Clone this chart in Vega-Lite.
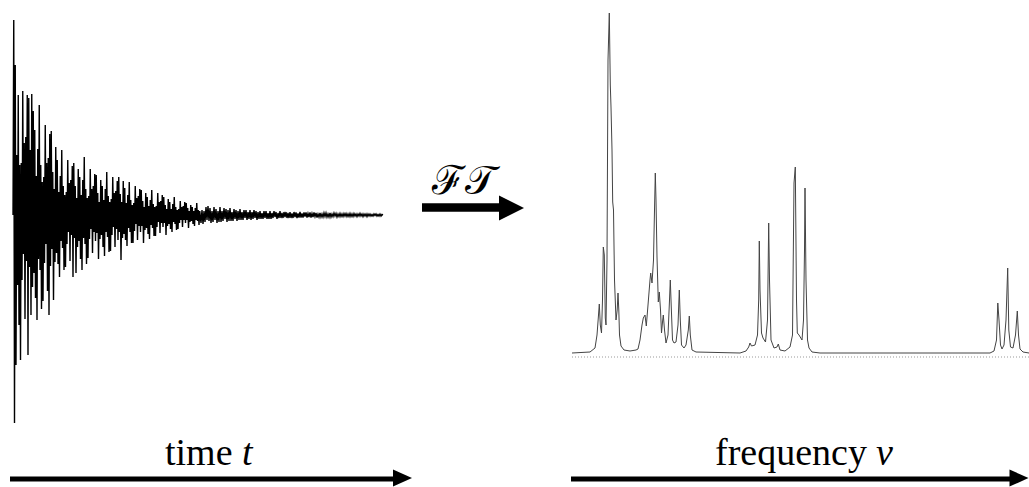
{
  "$schema": "https://vega.github.io/schema/vega-lite/v6.json",
  "width": 1029,
  "height": 487,
  "autosize": {"type": "fit", "contains": "padding"},
  "padding": 0,
  "background": "white",
  "config": {"view": {"stroke": null}},
  "datasets": {
    "fid": [
      {"t":0,"a":0},{"t":0.75,"a":195},{"t":1.5,"a":-208},{"t":2.25,"a":150},{"t":3,"a":-150},{"t":3.75,"a":60},{"t":4.5,"a":-70},{"t":5.25,"a":120},{"t":6,"a":-110},{"t":6.75,"a":50},
      {"t":7.5,"a":-145},{"t":8.25,"a":52},{"t":9,"a":-65},{"t":9.75,"a":124},{"t":10.5,"a":-39},{"t":11.25,"a":72},{"t":12,"a":-104},{"t":12.75,"a":78},{"t":13.5,"a":-46},{"t":14.25,"a":120},
      {"t":15,"a":-140},{"t":15.75,"a":117},{"t":16.5,"a":-52},{"t":17.25,"a":65},{"t":18,"a":-100},{"t":18.75,"a":121},{"t":19.5,"a":-72},{"t":20.25,"a":104},{"t":21,"a":-58},{"t":21.75,"a":85},
      {"t":22.5,"a":-83},{"t":23.25,"a":39},{"t":24,"a":-105},{"t":24.75,"a":66},{"t":25.5,"a":-44},{"t":26.25,"a":110},{"t":27,"a":-55},{"t":27.75,"a":50},{"t":28.5,"a":-94},{"t":29.25,"a":33},
      {"t":30,"a":-86},{"t":30.75,"a":38},{"t":31.5,"a":-48},{"t":32.25,"a":90},{"t":33,"a":-29},{"t":33.75,"a":52},{"t":34.5,"a":-76},{"t":35.25,"a":57},{"t":36,"a":-100},{"t":36.75,"a":81},
      {"t":37.5,"a":-51},{"t":38.25,"a":84},{"t":39,"a":-34},{"t":39.75,"a":43},{"t":40.5,"a":-85},{"t":41.25,"a":26},{"t":42,"a":-47},{"t":42.75,"a":68},{"t":43.5,"a":-38},{"t":44.25,"a":55},
      {"t":45,"a":-49},{"t":45.75,"a":23},{"t":46.5,"a":-62},{"t":47.25,"a":39},{"t":48,"a":-26},{"t":48.75,"a":65},{"t":49.5,"a":-33},{"t":50.25,"a":29},{"t":51,"a":-55},{"t":51.75,"a":20},
      {"t":52.5,"a":-52},{"t":53.25,"a":23},{"t":54,"a":-29},{"t":54.75,"a":55},{"t":55.5,"a":-17},{"t":56.25,"a":32},{"t":57,"a":-46},{"t":57.75,"a":35},{"t":58.5,"a":-20},{"t":59.25,"a":49},
      {"t":60,"a":-62},{"t":60.75,"a":52},{"t":61.5,"a":-23},{"t":62.25,"a":29},{"t":63,"a":-58},{"t":63.75,"a":17},{"t":64.5,"a":-32},{"t":65.25,"a":46},{"t":66,"a":-26},{"t":66.75,"a":38},
      {"t":67.5,"a":-44},{"t":68.25,"a":20},{"t":69,"a":-55},{"t":69.75,"a":35},{"t":70.5,"a":-23},{"t":71.25,"a":58},{"t":72,"a":-29},{"t":72.75,"a":26},{"t":73.5,"a":-49},{"t":74.25,"a":17},
      {"t":75,"a":-43},{"t":75.75,"a":19},{"t":76.5,"a":-24},{"t":77.25,"a":46},{"t":78,"a":-14},{"t":78.75,"a":26},{"t":79.5,"a":-38},{"t":80.25,"a":29},{"t":81,"a":-17},{"t":81.75,"a":41},
      {"t":82.5,"a":-26},{"t":83.25,"a":40},{"t":84,"a":-18},{"t":84.75,"a":22},{"t":85.5,"a":-44},{"t":86.25,"a":13},{"t":87,"a":-24},{"t":87.75,"a":35},{"t":88.5,"a":-20},{"t":89.25,"a":29},
      {"t":90,"a":-32},{"t":90.75,"a":15},{"t":91.5,"a":-41},{"t":92.25,"a":26},{"t":93,"a":-17},{"t":93.75,"a":43},{"t":94.5,"a":-22},{"t":95.25,"a":19},{"t":96,"a":-37},{"t":96.75,"a":13},
      {"t":97.5,"a":-36},{"t":98.25,"a":16},{"t":99,"a":-20},{"t":99.75,"a":38},{"t":100.5,"a":-12},{"t":101.25,"a":22},{"t":102,"a":-32},{"t":102.75,"a":24},{"t":103.5,"a":-14},{"t":104.25,"a":34},
      {"t":105,"a":-25},{"t":105.75,"a":38},{"t":106.5,"a":-17},{"t":107.25,"a":21},{"t":108,"a":-45},{"t":108.75,"a":13},{"t":109.5,"a":-23},{"t":110.25,"a":34},{"t":111,"a":-19},{"t":111.75,"a":27},
      {"t":112.5,"a":-25},{"t":113.25,"a":12},{"t":114,"a":-31},{"t":114.75,"a":20},{"t":115.5,"a":-13},{"t":116.25,"a":33},{"t":117,"a":-17},{"t":117.75,"a":15},{"t":118.5,"a":-28},{"t":119.25,"a":10},
      {"t":120,"a":-28},{"t":120.75,"a":12},{"t":121.5,"a":-16},{"t":122.25,"a":29},{"t":123,"a":-9},{"t":123.75,"a":17},{"t":124.5,"a":-25},{"t":125.25,"a":19},{"t":126,"a":-11},{"t":126.75,"a":26},
      {"t":127.5,"a":-17},{"t":128.25,"a":25},{"t":129,"a":-11},{"t":129.75,"a":14},{"t":130.5,"a":-28},{"t":131.25,"a":8},{"t":132,"a":-15},{"t":132.75,"a":22},{"t":133.5,"a":-13},{"t":134.25,"a":18},
      {"t":135,"a":-19},{"t":135.75,"a":9},{"t":136.5,"a":-24},{"t":137.25,"a":15},{"t":138,"a":-10},{"t":138.75,"a":25},{"t":139.5,"a":-13},{"t":140.25,"a":11},{"t":141,"a":-21},{"t":141.75,"a":8},
      {"t":142.5,"a":-21},{"t":143.25,"a":9},{"t":144,"a":-12},{"t":144.75,"a":22},{"t":145.5,"a":-7},{"t":146.25,"a":13},{"t":147,"a":-18},{"t":147.75,"a":14},{"t":148.5,"a":-8},{"t":149.25,"a":20},
      {"t":150,"a":-12},{"t":150.75,"a":18},{"t":151.5,"a":-8},{"t":152.25,"a":10},{"t":153,"a":-20},{"t":153.75,"a":6},{"t":154.5,"a":-11},{"t":155.25,"a":16},{"t":156,"a":-9},{"t":156.75,"a":13},
      {"t":157.5,"a":-14},{"t":158.25,"a":6},{"t":159,"a":-17},{"t":159.75,"a":11},{"t":160.5,"a":-7},{"t":161.25,"a":18},{"t":162,"a":-9},{"t":162.75,"a":8},{"t":163.5,"a":-15},{"t":164.25,"a":5},
      {"t":165,"a":-14},{"t":165.75,"a":6},{"t":166.5,"a":-8},{"t":167.25,"a":14},{"t":168,"a":-5},{"t":168.75,"a":8},{"t":169.5,"a":-12},{"t":170.25,"a":9},{"t":171,"a":-5},{"t":171.75,"a":13},
      {"t":172.5,"a":-8},{"t":173.25,"a":12},{"t":174,"a":-5},{"t":174.75,"a":7},{"t":175.5,"a":-13},{"t":176.25,"a":4},{"t":177,"a":-7},{"t":177.75,"a":10},{"t":178.5,"a":-6},{"t":179.25,"a":8},
      {"t":180,"a":-9},{"t":180.75,"a":4},{"t":181.5,"a":-11},{"t":182.25,"a":7},{"t":183,"a":-5},{"t":183.75,"a":12},{"t":184.5,"a":-6},{"t":185.25,"a":5},{"t":186,"a":-10},{"t":186.75,"a":4},
      {"t":188,"a":-8},{"t":189,"a":5},{"t":190,"a":-9},{"t":191,"a":4},{"t":192,"a":-7},{"t":193,"a":8},{"t":194,"a":-5},{"t":195,"a":9},{"t":196,"a":-6},{"t":197,"a":7},
      {"t":198,"a":-8},{"t":199,"a":4},{"t":200,"a":-7},{"t":201,"a":8},{"t":202,"a":-5},{"t":203,"a":6},{"t":204,"a":-8},{"t":205,"a":4},{"t":206,"a":-7},{"t":207,"a":8},
      {"t":208,"a":-7},{"t":209,"a":4},{"t":210,"a":-6},{"t":211,"a":7},{"t":212,"a":-4},{"t":213,"a":6},{"t":214,"a":-7},{"t":215,"a":5},{"t":216,"a":-6},{"t":217,"a":7},
      {"t":218,"a":-6},{"t":219,"a":3},{"t":220,"a":-6},{"t":221,"a":6},{"t":222,"a":-4},{"t":223,"a":5},{"t":224,"a":-6},{"t":225,"a":4},{"t":226,"a":-5},{"t":227,"a":6},
      {"t":228,"a":-5},{"t":229,"a":3},{"t":230,"a":-5},{"t":231,"a":5},{"t":232,"a":-3},{"t":233,"a":5},{"t":234,"a":-5},{"t":235,"a":3},{"t":236,"a":-4},{"t":237,"a":5},
      {"t":238,"a":-5},{"t":239,"a":3},{"t":240,"a":-4},{"t":241,"a":5},{"t":242,"a":-3},{"t":243,"a":4},{"t":244,"a":-5},{"t":245,"a":3},{"t":246,"a":-4},{"t":247,"a":4},
      {"t":248,"a":-4},{"t":249,"a":2},{"t":250,"a":-4},{"t":251,"a":4},{"t":252,"a":-3},{"t":253,"a":4},{"t":254,"a":-4},{"t":255,"a":2},{"t":256,"a":-4},{"t":257,"a":4},
      {"t":258,"a":-4},{"t":259,"a":2},{"t":260,"a":-3},{"t":261,"a":4},{"t":262,"a":-2},{"t":263,"a":3},{"t":264,"a":-4},{"t":265,"a":2},{"t":266,"a":-3},{"t":267,"a":4},
      {"t":268,"a":-3},{"t":269,"a":2},{"t":270,"a":-3},{"t":271,"a":3},{"t":272,"a":-2},{"t":273,"a":3},{"t":274,"a":-3},{"t":275,"a":2},{"t":276,"a":-3},{"t":277,"a":3},
      {"t":278,"a":-3},{"t":279,"a":1.5},{"t":280,"a":-3},{"t":281,"a":3},{"t":282,"a":-2},{"t":283,"a":2.5},{"t":284,"a":-3},{"t":285,"a":1.5},{"t":286,"a":-2.5},{"t":287,"a":3},
      {"t":288,"a":-2.5},{"t":289,"a":1.5},{"t":290,"a":-2.5},{"t":291,"a":2.5},{"t":292,"a":-1.5},{"t":293,"a":2.5},{"t":294,"a":-2.5},{"t":295,"a":1.5},{"t":296,"a":-2},{"t":297,"a":2.5},
      {"t":298,"a":-2.5},{"t":299,"a":1.5},{"t":300,"a":-2},{"t":301,"a":2.5},{"t":302,"a":-1.5},{"t":303,"a":2},{"t":304,"a":-2.5},{"t":305,"a":1},{"t":306,"a":-2},{"t":307,"a":2},
      {"t":308,"a":-2},{"t":309,"a":1},{"t":310,"a":-2},{"t":311,"a":2},{"t":312,"a":-1.5},{"t":313,"a":2},{"t":314,"a":-2},{"t":315,"a":1},{"t":316,"a":-2},{"t":317,"a":2},
      {"t":318,"a":-2},{"t":319,"a":1},{"t":320,"a":-1.5},{"t":321,"a":2},{"t":322,"a":-1},{"t":323,"a":1.5},{"t":324,"a":-2},{"t":325,"a":1},{"t":326,"a":-1.5},{"t":327,"a":1.5},
      {"t":328,"a":-1.5},{"t":329,"a":1},{"t":330,"a":-1.5},{"t":331,"a":1.5},{"t":332,"a":-1},{"t":333,"a":1.5},{"t":334,"a":-1.5},{"t":335,"a":1},{"t":336,"a":-1.5},{"t":337,"a":1.5},
      {"t":338,"a":-1.5},{"t":339,"a":1},{"t":340,"a":-1.5},{"t":341,"a":1.5},{"t":342,"a":-1},{"t":343,"a":1},{"t":344,"a":-1.5},{"t":345,"a":1},{"t":346,"a":-1},{"t":347,"a":1.5},
      {"t":348,"a":-1},{"t":349,"a":1},{"t":350,"a":-1.5},{"t":351,"a":1},{"t":352,"a":-1},{"t":353,"a":1},{"t":354,"a":-1.5},{"t":355,"a":1},{"t":356,"a":-1},{"t":357,"a":1},
      {"t":358,"a":-1},{"t":359,"a":0.5},{"t":360,"a":-1},{"t":361,"a":1},{"t":362,"a":-0.5},{"t":363,"a":1},{"t":364,"a":-1},{"t":365,"a":0.5},{"t":366,"a":-1},{"t":367,"a":1},
      {"t":368,"a":-1},{"t":369,"a":0.5},{"t":370,"a":0}
    ],
    "spectrum": [
      {"nu":0,"I":0},{"nu":18,"I":1},{"nu":23,"I":5},{"nu":25,"I":18},{"nu":26.5,"I":38},{"nu":27.3,"I":49},{"nu":28.3,"I":28},{"nu":29.5,"I":20},{"nu":30.5,"I":53},{"nu":31.3,"I":106},
      {"nu":32.3,"I":98},{"nu":33.3,"I":35},{"nu":34,"I":28},{"nu":35,"I":93},{"nu":36,"I":293},{"nu":37.3,"I":340},{"nu":38.3,"I":268},{"nu":39,"I":246},{"nu":40,"I":203},{"nu":40.7,"I":151},
      {"nu":41.5,"I":143},{"nu":42.5,"I":73},{"nu":44,"I":33},{"nu":45.2,"I":43},{"nu":46,"I":60},{"nu":46.8,"I":43},{"nu":47.5,"I":18},{"nu":49,"I":7},{"nu":52,"I":3},{"nu":58,"I":2},
      {"nu":64,"I":3},{"nu":66,"I":4},{"nu":68,"I":13},{"nu":70,"I":28},{"nu":71.3,"I":35},{"nu":73,"I":38},{"nu":74.3,"I":27},{"nu":76,"I":48},{"nu":78,"I":73},{"nu":78.7,"I":80},
      {"nu":80,"I":70},{"nu":81.5,"I":93},{"nu":82.5,"I":143},{"nu":83.3,"I":180},{"nu":84,"I":153},{"nu":85,"I":96},{"nu":86.3,"I":51},{"nu":87.3,"I":61},{"nu":88.5,"I":43},{"nu":89.5,"I":20},
      {"nu":90.5,"I":31},{"nu":91.3,"I":38},{"nu":92.5,"I":23},{"nu":94,"I":10},{"nu":96,"I":18},{"nu":97.5,"I":53},{"nu":98.3,"I":73},{"nu":99.2,"I":48},{"nu":100.5,"I":13},{"nu":102,"I":10},
      {"nu":104,"I":11},{"nu":106,"I":28},{"nu":107.3,"I":63},{"nu":108.3,"I":33},{"nu":109.5,"I":8},{"nu":112,"I":5},{"nu":114,"I":8},{"nu":116.3,"I":23},{"nu":117.3,"I":37},{"nu":118.3,"I":18},
      {"nu":120,"I":3},{"nu":124,"I":1},{"nu":168,"I":0},{"nu":174,"I":2},{"nu":176.7,"I":6},{"nu":178,"I":10},{"nu":179.5,"I":7},{"nu":183,"I":8},{"nu":185.5,"I":18},{"nu":186.7,"I":53},
      {"nu":187.3,"I":112},{"nu":188,"I":63},{"nu":189.5,"I":20},{"nu":191,"I":15},{"nu":193.5,"I":11},{"nu":195.5,"I":33},{"nu":196.7,"I":130},{"nu":197.5,"I":73},{"nu":199,"I":13},{"nu":202,"I":5},
      {"nu":205,"I":6},{"nu":206.3,"I":9},{"nu":208,"I":3},{"nu":213,"I":2},{"nu":218,"I":6},{"nu":220.5,"I":18},{"nu":222,"I":170},{"nu":223.3,"I":186},{"nu":224.5,"I":53},{"nu":225.3,"I":20},
      {"nu":227,"I":18},{"nu":230,"I":13},{"nu":231.5,"I":33},{"nu":232.5,"I":103},{"nu":233,"I":165},{"nu":234,"I":73},{"nu":235.5,"I":13},{"nu":237,"I":5},{"nu":240,"I":1},{"nu":248,"I":0},
      {"nu":418,"I":0},{"nu":422,"I":2},{"nu":424.5,"I":13},{"nu":425.8,"I":50},{"nu":427,"I":33},{"nu":428.5,"I":8},{"nu":430,"I":4},{"nu":432,"I":8},{"nu":434,"I":33},{"nu":435.7,"I":85},
      {"nu":436.8,"I":23},{"nu":438.5,"I":6},{"nu":441,"I":5},{"nu":443.5,"I":18},{"nu":445.3,"I":42},{"nu":446.5,"I":18},{"nu":448,"I":4},{"nu":451,"I":1},{"nu":457,"I":0}
    ],
    "baseline": [{"nu":0,"nu2":457,"I":-4}],
    "axisArrows": [{"x":10,"x2":394,"y":479},{"x":571,"x2":1010,"y":479}],
    "axisHeads": [{"x":402.5,"y":478},{"x":1019,"y":478}],
    "ftArrow": [{"x":422,"x2":500,"y":207.5}],
    "ftHead": [{"x":511.5,"y":208}],
    "labels": [{"x":165,"y":465,"text":"time"},{"x":715,"y":465,"text":"frequency"}],
    "symbols": [{"x":242,"y":465,"text":"t"},{"x":876,"y":465,"text":"ν"}],
    "ft": [{"x":464,"y":194,"text":"ℱ𝒯"}]
  },
  "resolve": {"scale": {"x": "independent", "y": "independent"}},
  "layer": [
    {
      "data": {"name": "fid"},
      "mark": {"type": "line", "color": "#000000", "strokeWidth": 1.4},
      "encoding": {
        "x": {"field": "t", "type": "quantitative", "axis": null, "scale": {"domain": [0, 370], "range": [13, 383], "nice": false, "zero": false}},
        "y": {"field": "a", "type": "quantitative", "axis": null, "scale": {"domain": [-215, 215], "range": [430, 0], "nice": false, "zero": false}}
      }
    },
    {
      "layer": [
        {
          "data": {"name": "baseline"},
          "mark": {"type": "rule", "color": "#999999", "strokeWidth": 1, "strokeDash": [1, 2]},
          "encoding": {
            "x": {"field": "nu", "type": "quantitative", "axis": null, "scale": {"domain": [0, 457], "range": [572, 1029], "nice": false, "zero": false}},
            "x2": {"field": "nu2"},
            "y": {"field": "I", "type": "quantitative", "axis": null, "scale": {"domain": [0, 340], "range": [353, 13], "nice": false, "zero": false}}
          }
        },
        {
          "data": {"name": "spectrum"},
          "mark": {"type": "line", "color": "#444444", "strokeWidth": 1},
          "encoding": {
            "x": {"field": "nu", "type": "quantitative", "axis": null, "scale": {"domain": [0, 457], "range": [572, 1029], "nice": false, "zero": false}},
            "y": {"field": "I", "type": "quantitative", "axis": null, "scale": {"domain": [0, 340], "range": [353, 13], "nice": false, "zero": false}}
          }
        }
      ]
    },
    {
      "layer": [
        {
          "data": {"name": "axisArrows"},
          "mark": {"type": "rule", "color": "black", "strokeWidth": 5, "strokeCap": "butt"},
          "encoding": {
            "x": {"field": "x", "type": "quantitative", "axis": null, "scale": {"domain": [0, 1029], "range": [0, 1029], "nice": false, "zero": false}},
            "x2": {"field": "x2"},
            "y": {"field": "y", "type": "quantitative", "axis": null, "scale": {"domain": [0, 487], "range": [0, 487], "nice": false, "zero": false}}
          }
        },
        {
          "data": {"name": "axisHeads"},
          "mark": {"type": "point", "shape": "M -1 -0.9 L 1 0 L -1 0.9 Z", "size": 361, "filled": true, "color": "black", "opacity": 1},
          "encoding": {
            "x": {"field": "x", "type": "quantitative", "axis": null, "scale": {"domain": [0, 1029], "range": [0, 1029], "nice": false, "zero": false}},
            "y": {"field": "y", "type": "quantitative", "axis": null, "scale": {"domain": [0, 487], "range": [0, 487], "nice": false, "zero": false}}
          }
        },
        {
          "data": {"name": "ftArrow"},
          "mark": {"type": "rule", "color": "black", "strokeWidth": 8.5, "strokeCap": "butt"},
          "encoding": {
            "x": {"field": "x", "type": "quantitative", "axis": null, "scale": {"domain": [0, 1029], "range": [0, 1029], "nice": false, "zero": false}},
            "x2": {"field": "x2"},
            "y": {"field": "y", "type": "quantitative", "axis": null, "scale": {"domain": [0, 487], "range": [0, 487], "nice": false, "zero": false}}
          }
        },
        {
          "data": {"name": "ftHead"},
          "mark": {"type": "point", "shape": "M -1 -1 L 1 0 L -1 1 Z", "size": 625, "filled": true, "color": "black", "opacity": 1},
          "encoding": {
            "x": {"field": "x", "type": "quantitative", "axis": null, "scale": {"domain": [0, 1029], "range": [0, 1029], "nice": false, "zero": false}},
            "y": {"field": "y", "type": "quantitative", "axis": null, "scale": {"domain": [0, 487], "range": [0, 487], "nice": false, "zero": false}}
          }
        },
        {
          "data": {"name": "labels"},
          "mark": {"type": "text", "font": "Liberation Serif", "fontSize": 38, "align": "left", "baseline": "alphabetic", "color": "black"},
          "encoding": {
            "x": {"field": "x", "type": "quantitative", "axis": null, "scale": {"domain": [0, 1029], "range": [0, 1029], "nice": false, "zero": false}},
            "y": {"field": "y", "type": "quantitative", "axis": null, "scale": {"domain": [0, 487], "range": [0, 487], "nice": false, "zero": false}},
            "text": {"field": "text"}
          }
        },
        {
          "data": {"name": "symbols"},
          "mark": {"type": "text", "font": "Liberation Serif", "fontStyle": "italic", "fontSize": 38, "align": "left", "baseline": "alphabetic", "color": "black"},
          "encoding": {
            "x": {"field": "x", "type": "quantitative", "axis": null, "scale": {"domain": [0, 1029], "range": [0, 1029], "nice": false, "zero": false}},
            "y": {"field": "y", "type": "quantitative", "axis": null, "scale": {"domain": [0, 487], "range": [0, 487], "nice": false, "zero": false}},
            "text": {"field": "text"}
          }
        },
        {
          "data": {"name": "ft"},
          "mark": {"type": "text", "font": "DejaVu Serif", "fontSize": 40, "align": "center", "baseline": "alphabetic", "color": "black"},
          "encoding": {
            "x": {"field": "x", "type": "quantitative", "axis": null, "scale": {"domain": [0, 1029], "range": [0, 1029], "nice": false, "zero": false}},
            "y": {"field": "y", "type": "quantitative", "axis": null, "scale": {"domain": [0, 487], "range": [0, 487], "nice": false, "zero": false}},
            "text": {"field": "text"}
          }
        }
      ]
    }
  ]
}
